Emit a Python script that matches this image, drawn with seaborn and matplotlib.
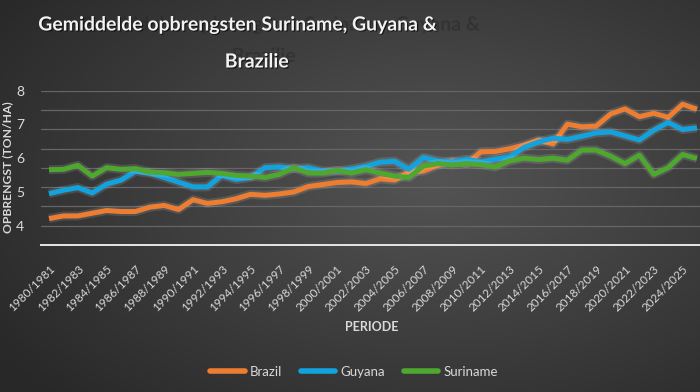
import numpy as np
import pandas as pd
import matplotlib
matplotlib.use('Agg')
import matplotlib.pyplot as plt
import matplotlib.patheffects as pe
import seaborn as sns

# Periods 1980/1981 .. 2025/2026
periods = [f'{y}/{y + 1}' for y in range(1980, 2026)]

brazil = [4.21, 4.29, 4.29, 4.37, 4.45, 4.42, 4.42, 4.55, 4.60, 4.48,
          4.77, 4.66, 4.71, 4.80, 4.93, 4.90, 4.94, 5.00, 5.16, 5.22,
          5.28, 5.30, 5.25, 5.39, 5.35, 5.59, 5.62, 5.79, 5.92, 5.84,
          6.19, 6.20, 6.28, 6.39, 6.54, 6.42, 7.01, 6.93, 6.95, 7.31,
          7.46, 7.23, 7.33, 7.21, 7.60, 7.45]
guyana = [4.95, 5.05, 5.13, 4.97, 5.23, 5.35, 5.61, 5.56, 5.43, 5.29,
          5.15, 5.15, 5.49, 5.37, 5.43, 5.72, 5.74, 5.69, 5.72, 5.62,
          5.62, 5.68, 5.76, 5.88, 5.91, 5.67, 6.02, 5.92, 5.89, 5.97,
          5.89, 5.97, 6.04, 6.32, 6.48, 6.59, 6.56, 6.65, 6.75, 6.78,
          6.66, 6.54, 6.83, 7.06, 6.85, 6.90]
suriname = [5.66, 5.67, 5.79, 5.47, 5.72, 5.67, 5.69, 5.59, 5.57, 5.52,
            5.55, 5.58, 5.55, 5.49, 5.47, 5.43, 5.52, 5.72, 5.56, 5.56,
            5.64, 5.56, 5.66, 5.56, 5.47, 5.43, 5.77, 5.84, 5.80, 5.84,
            5.81, 5.74, 5.92, 6.00, 5.96, 6.00, 5.94, 6.24, 6.24, 6.06,
            5.84, 6.09, 5.52, 5.72, 6.11, 5.99]

series_names = ['Brazil', 'Guyana', 'Suriname']
colors = ['#ED7D31', '#12A3DE', '#4EA72E']
y_ticks = [4, 5, 6, 7, 8]

df = pd.DataFrame({'idx': list(range(len(periods))) * 3,
                   'land': sum([[n] * len(periods) for n in series_names], []),
                   'waarde': brazil + guyana + suriname})

sns.set_style('dark')
plt.rcParams['font.family'] = ['Lato', 'DejaVu Sans']
txt = '#D9D9D9'

fig = plt.figure(figsize=(7, 3.92), dpi=100)

# radial gradient background
bg = fig.add_axes([0, 0, 1, 1], zorder=-10)
gx, gy = np.meshgrid(np.linspace(0, 1, 350), np.linspace(0, 1, 196))
r = np.sqrt(((gx - 0.62) / 0.75) ** 2 + ((gy - 0.45) / 0.8) ** 2)
shade = 0.33 - 0.17 * np.clip(r, 0, 1)
bg.imshow(np.dstack([shade] * 3), aspect='auto', extent=[0, 1, 0, 1])
bg.set_axis_off()

ax = fig.add_axes([41 / 700, 1 - 245 / 392, 659 / 700, (245 - 90.7) / 392])
ax.set_facecolor('none')

ymin = 4 - 4 / 7
for g in np.linspace(ymin, 8, 9)[1:]:
    ax.axhline(g, color='#666666', lw=0.9, zorder=1)

sns.lineplot(data=df, x='idx', y='waarde', hue='land', palette=colors,
             hue_order=series_names, lw=3.6, ax=ax, legend=False, zorder=3)
for line in ax.lines[-3:]:
    line.set_path_effects([pe.Stroke(linewidth=6.5, foreground='white', alpha=0.12),
                           pe.Normal()])
    line.set_solid_capstyle('butt')

ax.set_xlim(-0.556, 45.21)
ax.set_ylim(ymin, 8)
ax.set_xticks(range(0, len(periods), 2))
ax.set_xticklabels(periods[::2], rotation=45, ha='right', rotation_mode='anchor',
                   color=txt, fontsize=8.5)
ax.set_yticks(y_ticks)
ax.set_yticklabels([str(t) for t in y_ticks], color=txt, fontsize=10)
ax.tick_params(axis='x', length=0, pad=13)
ax.tick_params(axis='y', length=0, pad=12)
ax.grid(False)
for s in ['top', 'right', 'left']:
    ax.spines[s].set_visible(False)
ax.spines['bottom'].set_color('#E6E6E6')
ax.spines['bottom'].set_linewidth(1.4)
ax.set_xlabel('')
ax.set_ylabel('')

fig.text(8 / 700, 1 - 167 / 392, 'OPBRENGST (TON/HA)', rotation=90, color=txt,
         fontsize=8.7, fontweight='bold', ha='center', va='center')
fig.text(372 / 700, 1 - 327 / 392, 'PERIODE', color=txt, fontsize=9,
         fontweight='bold', ha='center', va='center')

# title: dark ghost copy drawn as a shadow effect of the same text
title1 = 'Gemiddelde opbrengsten Suriname, Guyana &'
title2 = 'Brazilie'
def title_fx(dx, dy):
    return [pe.SimplePatchShadow(offset=(dx, dy), shadow_rgbFace='#262626', alpha=0.45),
            pe.SimplePatchShadow(offset=(0.8, -0.8), shadow_rgbFace='black', alpha=0.6),
            pe.Normal()]
fig.text(239 / 700, 1 - 25 / 392, title1, color='#F2F2F2', fontsize=14,
         fontweight='bold', ha='center', va='center', path_effects=title_fx(31, 0))
fig.text(257 / 700, 1 - 62 / 392, title2, color='#F2F2F2', fontsize=14,
         fontweight='bold', ha='center', va='center', path_effects=title_fx(5, 4))

handles = [plt.Line2D([], [], color=c, lw=4) for c in colors]
fig.legend(handles, series_names, loc='center', bbox_to_anchor=(354 / 700, 1 - 372 / 392),
           ncol=3, frameon=False, fontsize=9.5, labelcolor=txt, handlelength=2.6,
           handletextpad=0.4, columnspacing=1.4)

fig.savefig('out.png', dpi=100)
